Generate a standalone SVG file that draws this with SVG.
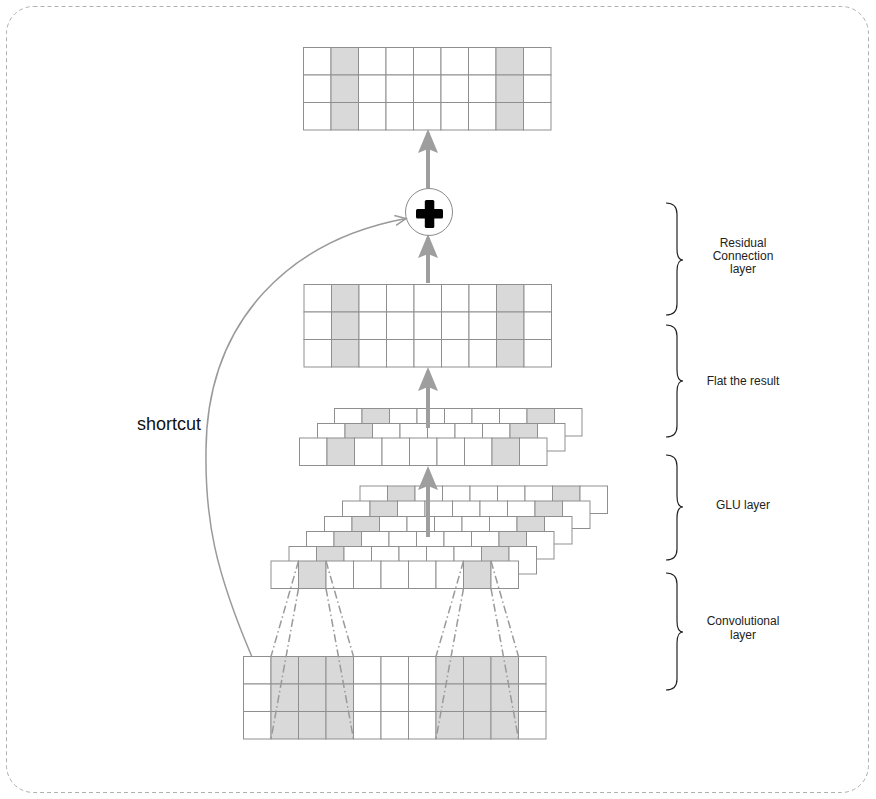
<svg xmlns="http://www.w3.org/2000/svg" width="876" height="799" viewBox="0 0 876 799">
<style>
.c{fill:#fff;stroke:#8f8f8f;stroke-width:1}
.s{fill:#d9d9d9;stroke:#8f8f8f;stroke-width:1}
.lbl{font-family:"Liberation Sans",Arial,sans-serif;font-size:12px;fill:#222;text-anchor:middle}
.brace{fill:none;stroke:#222;stroke-width:1.2}
.arr{stroke:#9e9e9e;stroke-width:4;fill:none;marker-end:url(#ah)}
.dd{stroke:#9a9a9a;stroke-width:1.5;fill:none;stroke-dasharray:8 3 1.5 3}
</style>
<defs>
<marker id="ah" markerUnits="userSpaceOnUse" markerWidth="24" markerHeight="22" refX="20" refY="11" orient="auto" viewBox="0 0 24 22">
<path d="M0,1 L24,11 L0,21 L4,11 z" fill="#9e9e9e"/>
</marker>
<marker id="oh" markerUnits="userSpaceOnUse" markerWidth="14" markerHeight="12" refX="12" refY="6" orient="auto" viewBox="0 0 14 12">
<path d="M1,1 L12,6 L1,11" fill="none" stroke="#9a9a9a" stroke-width="1.5"/>
</marker>
<g id="row9">
<rect class="c" x="0" y="0" width="27.5" height="27.5"/>
<rect class="s" x="27.5" y="0" width="27.5" height="27.5"/>
<rect class="c" x="55" y="0" width="27.5" height="27.5"/>
<rect class="c" x="82.5" y="0" width="27.5" height="27.5"/>
<rect class="c" x="110" y="0" width="27.5" height="27.5"/>
<rect class="c" x="137.5" y="0" width="27.5" height="27.5"/>
<rect class="c" x="165" y="0" width="27.5" height="27.5"/>
<rect class="s" x="192.5" y="0" width="27.5" height="27.5"/>
<rect class="c" x="220" y="0" width="27.5" height="27.5"/>
</g>
<g id="row11">
<rect class="c" x="0" y="0" width="27.5" height="27.5"/>
<rect class="s" x="27.5" y="0" width="27.5" height="27.5"/>
<rect class="s" x="55" y="0" width="27.5" height="27.5"/>
<rect class="s" x="82.5" y="0" width="27.5" height="27.5"/>
<rect class="c" x="110" y="0" width="27.5" height="27.5"/>
<rect class="c" x="137.5" y="0" width="27.5" height="27.5"/>
<rect class="c" x="165" y="0" width="27.5" height="27.5"/>
<rect class="s" x="192.5" y="0" width="27.5" height="27.5"/>
<rect class="s" x="220" y="0" width="27.5" height="27.5"/>
<rect class="s" x="247.5" y="0" width="27.5" height="27.5"/>
<rect class="c" x="275" y="0" width="27.5" height="27.5"/>
</g>
</defs>
<rect x="6.5" y="6.5" width="862" height="786" rx="27" fill="#fff" stroke="#b0b0b0" stroke-width="1" stroke-dasharray="4 3"/>

<g id="output-grid">
<use href="#row9" x="303.5" y="47.5"/>
<use href="#row9" x="303.5" y="75"/>
<use href="#row9" x="303.5" y="102.5"/>
</g>

<g id="add-node">
<circle cx="429" cy="212" r="23.5" fill="#fff" stroke="#8a8a8a" stroke-width="1"/>
<rect x="416" y="209" width="27" height="9.5" rx="1.5" fill="#000"/>
<rect x="424.8" y="200" width="9.5" height="28" rx="1.5" fill="#000"/>
</g>

<g id="flat-grid">
<use href="#row9" x="304" y="284.5"/>
<use href="#row9" x="304" y="312"/>
<use href="#row9" x="304" y="339.5"/>
</g>

<g id="glu-output-stack">
<use href="#row9" x="334.5" y="408.5"/>
<use href="#row9" x="317.5" y="423.5"/>
<use href="#row9" x="299.5" y="438"/>
</g>

<g id="conv-output-stack">
<use href="#row9" x="360" y="486"/>
<use href="#row9" x="342.5" y="501"/>
<use href="#row9" x="324.5" y="516.5"/>
<use href="#row9" x="306.5" y="531.5"/>
<use href="#row9" x="289" y="546.5"/>
<use href="#row9" x="271" y="561"/>
</g>

<g id="input-grid">
<use href="#row11" x="243.5" y="656.5"/>
<use href="#row11" x="243.5" y="684"/>
<use href="#row11" x="243.5" y="711.5"/>
</g>

<g id="labels">
<path class="brace" d="M666,203 Q677,203 677,214 L677,249 Q677,260 683,260 Q677,260 677,271 L677,304 Q677,315 666,315"/>
<text class="lbl" x="743" y="246.5">Residual</text>
<text class="lbl" x="743" y="259.5">Connection</text>
<text class="lbl" x="743" y="272.5">layer</text>
<path class="brace" d="M666,325 Q677,325 677,336 L677,370 Q677,381 683,381 Q677,381 677,392 L677,426 Q677,437 666,437"/>
<text class="lbl" x="743" y="384.5">Flat the result</text>
<path class="brace" d="M666,455 Q677,455 677,466 L677,496 Q677,507 683,507 Q677,507 677,518 L677,549 Q677,560 666,560"/>
<text class="lbl" x="743" y="508.5">GLU layer</text>
<path class="brace" d="M666,573 Q677,573 677,584 L677,621 Q677,632 683,632 Q677,632 677,643 L677,679 Q677,690 666,690"/>
<text class="lbl" x="743" y="625">Convolutional</text>
<text class="lbl" x="743" y="638.5">layer</text>
<text x="137" y="430" font-family="Liberation Sans, Arial, sans-serif" font-size="18" fill="#111">shortcut</text>
</g>

<g id="connectors">
<line class="arr" x1="428" y1="537" x2="428" y2="470"/>
<line class="arr" x1="428" y1="428" x2="428" y2="371"/>
<line class="arr" x1="428" y1="283" x2="428" y2="238"/>
<line class="arr" x1="428" y1="188" x2="428" y2="133"/>
<path d="M252,657 C215,570 205,520 206,450 C207,320 290,240 406,218.5" fill="none" stroke="#9a9a9a" stroke-width="1.5" marker-end="url(#oh)"/>
<line class="dd" x1="298.5" y1="561" x2="271" y2="656.5"/>
<line class="dd" x1="298.5" y1="588.5" x2="271" y2="739"/>
<line class="dd" x1="326" y1="561" x2="353.5" y2="656.5"/>
<line class="dd" x1="326" y1="588.5" x2="353.5" y2="739"/>
<line class="dd" x1="463.5" y1="561" x2="436" y2="656.5"/>
<line class="dd" x1="463.5" y1="588.5" x2="436" y2="739"/>
<line class="dd" x1="491" y1="561" x2="518.5" y2="656.5"/>
<line class="dd" x1="491" y1="588.5" x2="518.5" y2="739"/>
</g>
</svg>
